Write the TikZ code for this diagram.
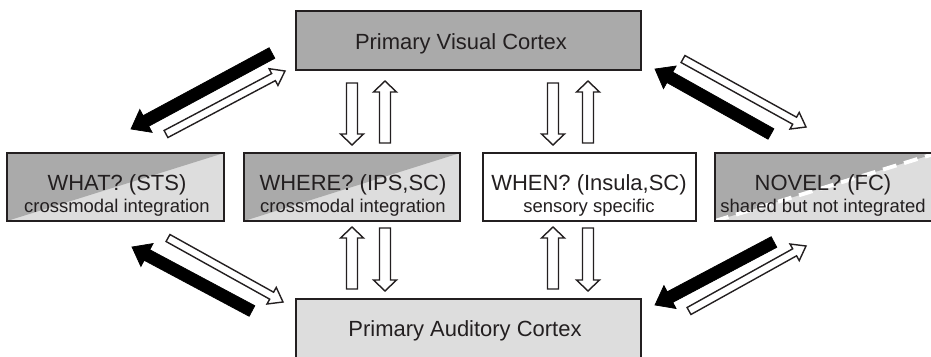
\documentclass[tikz,border=0pt]{standalone}
\usepackage{fontspec}
\setmainfont{Liberation Sans}
\usetikzlibrary{calc}

\definecolor{boxline}{RGB}{35,31,32}
\definecolor{darkfill}{RGB}{170,170,170}
\definecolor{lightfill}{RGB}{221,221,221}

\newcommand{\boxfont}{\fontsize{12.5}{13}\selectfont}
\newcommand{\notefont}{\fontsize{10.5}{13}\selectfont}

% block arrow: style, tail, tip, half shaft, half head, head length
\newcommand{\blockarrow}[6]{%
  \path (#2) coordinate (ba-a);
  \path (#3) coordinate (ba-b);
  \path ($(ba-b)!#6!(ba-a)$) coordinate (ba-c);
  \draw[#1] ($(ba-a)!#4!90:(ba-b)$) -- ($(ba-c)!#4!90:(ba-b)$)
    -- ($(ba-c)!#5!90:(ba-b)$) -- (ba-b) -- ($(ba-c)!#5!-90:(ba-b)$)
    -- ($(ba-c)!#4!-90:(ba-b)$) -- ($(ba-a)!#4!-90:(ba-b)$) -- cycle;
}

\begin{document}
\begin{tikzpicture}[x=0.02cm, y=-0.02cm,
    box/.style={draw=boxline, line width=0.8pt, inner sep=0pt},
    splitbox/.style={box, fill=lightfill, minimum height=1.36cm,
      path picture={\fill[darkfill] (path picture bounding box.north west)
        -- (path picture bounding box.north east)
        -- (path picture bounding box.south west) -- cycle;}},
    dashsplitbox/.style={box, fill=lightfill, minimum height=1.36cm,
      path picture={\fill[darkfill] (path picture bounding box.north west)
        -- (path picture bounding box.north east)
        -- (path picture bounding box.south west) -- cycle;
        \draw[white, line width=2.2pt, dash pattern=on 8pt off 4.5pt]
        (path picture bounding box.south west) -- (path picture bounding box.north east);}},
    boxtext/.style={text=boxline, align=center, font=\boxfont, inner sep=0pt},
    blackarrow/.style={fill=black, draw=black, line width=0.4pt, line join=miter},
    whitearrow/.style={fill=white, draw=boxline, line width=0.8pt, line join=miter}]

    \useasboundingbox (0,0) rectangle (931,356);
    \clip (0,0) rectangle (931,356);

    % Primary cortices
    \node[box, fill=darkfill, minimum width=6.9cm, minimum height=1.18cm] (visual) at (468.5,40.5) {};
    \node[boxtext] (visual-txt) at (461,44) {Primary Visual Cortex};
    \node[box, fill=lightfill, minimum width=6.9cm, minimum height=1.22cm] (auditory) at (468.5,329.5) {};
    \node[boxtext] (auditory-txt) at (465,331) {Primary Auditory Cortex};

    % What
    \node[splitbox, minimum width=4.34cm] (what) at (115.5,187) {};
    \node[boxtext] (what-txt) at (117,195.5) {WHAT? (STS)\\{\notefont crossmodal integration}};

    % Where
    \node[splitbox, minimum width=4.32cm] (where) at (352,187) {};
    \node[boxtext] (where-txt) at (353,195.5) {WHERE? (IPS,SC)\\{\notefont crossmodal integration}};

    % When
    \node[box, fill=white, minimum width=4.26cm, minimum height=1.36cm] (when) at (589.5,187) {};
    \node[boxtext] (when-txt) at (589,195.5) {WHEN? (Insula,SC)\\{\notefont sensory specific}};

    % Novel (dashed split)
    \node[dashsplitbox, minimum width=4.44cm] (novel) at (826,187) {};
    \node[boxtext] (novel-txt) at (823,195.5) {NOVEL? (FC)\\{\notefont shared but not integrated}};

    % Vertical arrows
    \foreach \x/\s/\e in {352/83/145, 385/143/81, 553/83/145, 588/143/81,
                          352/289/227, 385/228/291, 553/289/227, 588/228/291} {
        \coordinate (vs) at (\x,\s);
        \coordinate (ve) at (\x,\e);
        \blockarrow{whitearrow}{vs}{ve}{0.11cm}{0.23cm}{0.22cm}
    }

    % Diagonal arrows, visual side
    \coordinate (ul-b1) at (272,53);  \coordinate (ul-b2) at (131,129);
    \coordinate (ul-w1) at (166,134); \coordinate (ul-w2) at (285,71);
    \coordinate (ur-b1) at (771,134); \coordinate (ur-b2) at (655,69);
    \coordinate (ur-w1) at (683,59);  \coordinate (ur-w2) at (806,127);
    \blockarrow{blackarrow}{ul-b1}{ul-b2}{0.12cm}{0.26cm}{0.34cm}
    \blockarrow{whitearrow}{ul-w1}{ul-w2}{0.08cm}{0.19cm}{0.26cm}
    \blockarrow{blackarrow}{ur-b1}{ur-b2}{0.12cm}{0.26cm}{0.34cm}
    \blockarrow{whitearrow}{ur-w1}{ur-w2}{0.08cm}{0.19cm}{0.26cm}

    % Diagonal arrows, auditory side
    \coordinate (ll-b1) at (252,311); \coordinate (ll-b2) at (132,247);
    \coordinate (ll-w1) at (168,238); \coordinate (ll-w2) at (283,302);
    \coordinate (lr-b1) at (774,242); \coordinate (lr-b2) at (655,305);
    \coordinate (lr-w1) at (689,311); \coordinate (lr-w2) at (806,246);
    \blockarrow{blackarrow}{ll-b1}{ll-b2}{0.12cm}{0.26cm}{0.34cm}
    \blockarrow{whitearrow}{ll-w1}{ll-w2}{0.08cm}{0.19cm}{0.26cm}
    \blockarrow{blackarrow}{lr-b1}{lr-b2}{0.12cm}{0.26cm}{0.34cm}
    \blockarrow{whitearrow}{lr-w1}{lr-w2}{0.08cm}{0.19cm}{0.26cm}
\end{tikzpicture}
\end{document}
